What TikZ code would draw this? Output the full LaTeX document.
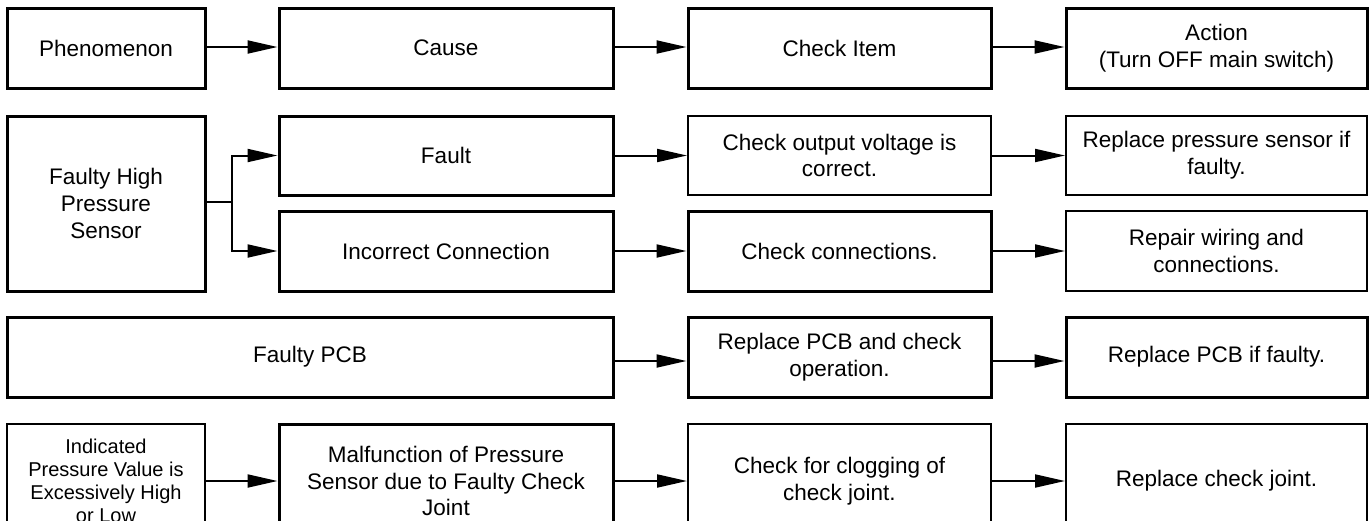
\documentclass[tikz,border=0pt]{standalone}
\usepackage{fontspec}
\setmainfont{Liberation Sans}
\usetikzlibrary{arrows.meta}
\begin{document}
\begin{tikzpicture}[x=1pt,y=-1pt,
  boxthick/.style={draw=black, line width=3pt, inner sep=0pt, align=center,
     font=\fontsize{22.5}{26.8}\selectfont},
  boxthin/.style={boxthick, line width=2pt},
  conn/.style={line width=2pt, -{Triangle[length=30pt,width=13pt]}},
  connline/.style={line width=2pt}]
\useasboundingbox (0,0) rectangle (1369,528);
\begin{scope}
\clip (0,0) rectangle (1369,520);
% row 1
\node[boxthick, minimum width=198pt, minimum height=80pt] (phen) at (106,48) {Phenomenon};
\node[boxthick, minimum width=334pt, minimum height=80pt] (cause) at (446,48) {Cause};
\node[boxthick, minimum width=303pt, minimum height=80pt] (item) at (839.5,48) {Check Item};
\node[boxthick, minimum width=301pt, minimum height=80pt] (action) at (1216.5,48) {Action\\(Turn OFF main switch)};
% row 2
\node[boxthick, minimum width=198pt, minimum height=175pt] (fhps) at (106,203.5) {Faulty High\\Pressure\\Sensor};
\node[boxthick, minimum width=334pt, minimum height=79pt] (fault) at (446,155.5) {Fault};
\node[boxthin, minimum width=303pt, minimum height=79pt] (chkv) at (839.5,155.5) {Check output voltage is\\correct.};
\node[boxthin, minimum width=301pt, minimum height=79pt] (reps) at (1216.5,155.5) {Replace pressure sensor if\\faulty.};
\node[boxthick, minimum width=334pt, minimum height=80pt] (inc) at (446,251) {Incorrect Connection};
\node[boxthick, minimum width=303pt, minimum height=80pt] (chkc) at (839.5,251) {Check connections.};
\node[boxthin, minimum width=301pt, minimum height=80pt] (repw) at (1216.5,251) {Repair wiring and\\connections.};
% row 3
\node[boxthick, minimum width=606pt, minimum height=80pt] (pcb) at (310,357) {Faulty PCB};
\node[boxthick, minimum width=303pt, minimum height=80pt] (rpcb) at (839.5,357) {Replace PCB and check\\operation.};
\node[boxthick, minimum width=301pt, minimum height=80pt] (rpcbf) at (1216.5,357) {Replace PCB if faulty.};
% row 4
\node[boxthin, minimum width=198pt, minimum height=114pt, font=\fontsize{20}{22.8}\selectfont] (ind) at (106,481) {Indicated\\Pressure Value is\\Excessively High\\or Low};
\node[boxthick, minimum width=334pt, minimum height=114pt] (malf) at (446,481) {Malfunction of Pressure\\Sensor due to Faulty Check\\Joint};
\node[boxthin, minimum width=303pt, minimum height=114pt] (clog) at (839.5,481) {Check for clogging of\\check joint.};
\node[boxthin, minimum width=301pt, minimum height=114pt] (rcj) at (1216.5,481) {Replace check joint.};
\end{scope}
% connectors
\draw[conn] ([yshift=1pt]phen.east) -- ([yshift=1pt]cause.west);
\draw[conn] ([yshift=1pt]cause.east) -- ([yshift=1pt]item.west);
\draw[conn] ([yshift=1pt]item.east) -- ([yshift=1pt]action.west);
\draw[connline] ([yshift=1.5pt]fhps.east) -- ++(25,0) coordinate (br);
\draw[conn] (br) |- (fault.west);
\draw[conn] (br) |- (inc.west);
\draw[conn] (fault.east) -- (chkv.west);
\draw[conn] (chkv.east) -- (reps.west);
\draw[conn] (inc.east) -- (chkc.west);
\draw[conn] (chkc.east) -- (repw.west);
\draw[conn] ([yshift=-4pt]pcb.east) -- ([yshift=-4pt]rpcb.west);
\draw[conn] ([yshift=-4pt]rpcb.east) -- ([yshift=-4pt]rpcbf.west);
\draw[conn] (ind.east) -- (malf.west);
\draw[conn] (malf.east) -- (clog.west);
\draw[conn] (clog.east) -- (rcj.west);
\end{tikzpicture}
\end{document}
